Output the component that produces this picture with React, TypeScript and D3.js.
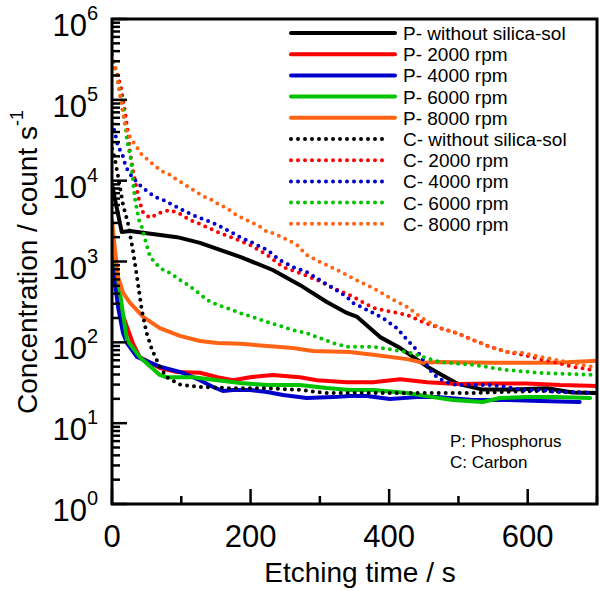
import React from "react";
import * as d3 from "d3";

type Pt = [number, number];

// time (s), concentration (count/s)
const P_without: Pt[] = [[0,8900],[14,2320],[26,2380],[94,2000],[127,1700],[185,1140],[232,785],[271,513],[310,316],[339,231],[354,206],[387,116],[416,85],[455,50],[498,31],[535,26],[579,26],[628,27],[665,24],[700,23.6]];
const P_2000: Pt[] = [[0,1600],[1.5,1050],[7,480],[11.5,275],[21.6,155],[30,98],[40,66],[69,48],[94,43],[127,42],[152,37],[175,34],[199,37],[232,39.5],[271,37],[296,34],[339,32],[377,32],[416,35],[455,32],[498,30.5],[546,31],[599,31],[647,29.6],[700,28.8]];
const P_4000: Pt[] = [[0,1200],[1.5,860],[8.7,275],[16,130],[21.6,98],[36,66],[69,50],[102,42],[127,34],[146,28],[160,25],[175,25.8],[199,25.8],[224,24.3],[247,22.3],[281,20.5],[319,21],[343,21.7],[368,21.7],[401,19.9],[440,21],[473,21],[521,19.4],[570,19.4],[618,18.8],[675,18.3]];
const P_6000: Pt[] = [[0,1950],[1.5,1700],[7,785],[14.4,275],[21.6,107],[40,66],[69,39.5],[79,37],[117,37],[152,34],[185,31.4],[224,29.6],[271,29.6],[310,27.2],[343,25.8],[377,25.8],[426,23.6],[463,21],[492,19.4],[535,18.3],[560,20.5],[599,21],[642,21],[690,20.5]];
const P_8000: Pt[] = [[0,3250],[4.3,1390],[8.7,645],[16,408],[26,308],[45,206],[69,150],[98,120],[127,104],[152,98],[185,96],[224,90],[261,85],[290,78],[343,76],[377,70],[426,62],[449,56],[473,57],[546,56],[642,56],[700,59]];
const C_without: Pt[] = [[0,25000],[4,19000],[9,11000],[16,5000],[23,3000],[30,1400],[36,650],[43,250],[50,130],[58,80],[69,50],[79,37],[98,30],[127,28],[175,27],[224,27],[271,25.8],[310,23.6],[339,23.6],[426,23.6],[473,23.6],[521,23.6],[560,24.3],[618,25],[700,23.6]];
const C_2000: Pt[] = [[0,295000],[7,220000],[13,141000],[19,69000],[23,39000],[26,22000],[31,12400],[36,7700],[39,5800],[45,4000],[55,3450],[69,4000],[84,4340],[98,3880],[113,3250],[127,2910],[152,2320],[175,1950],[199,1600],[224,1200],[247,855],[271,720],[296,590],[319,470],[343,385],[377,266],[426,218],[449,178],[473,150],[498,130],[521,107],[546,88],[570,76],[593,70],[618,62],[642,56],[665,50],[694,45.5]];
const C_4000: Pt[] = [[0,51500],[4.3,39000],[8.7,26000],[14.4,22000],[20,14800],[29,11100],[43,8300],[62,6300],[74,5770],[94,4700],[115,3800],[127,3450],[146,3000],[166,2450],[185,2000],[203,1700],[224,1390],[242,1045],[261,855],[281,740],[300,590],[319,470],[339,365],[348,307],[368,252],[391,200],[411,150],[426,107],[440,80],[449,60.5],[459,45.5],[469,37],[483,32],[498,29.7],[521,29.7],[546,29.7],[570,28],[593,25.8],[618,25.8],[642,24.3],[665,24.3],[694,23.6]];
const C_6000: Pt[] = [[0,360000],[4.3,255000],[7,191000],[10,145000],[13,108000],[16,81000],[17.5,61000],[20,42600],[21.6,32000],[24.5,24000],[27.4,18000],[29,12800],[30.5,9300],[32,7250],[33.5,5770],[36,4360],[39,3250],[43,2680],[48,1850],[55,1140],[69,830],[84,720],[98,590],[110,510],[123,420],[137,335],[152,290],[166,266],[185,230],[203,206],[224,178],[242,160],[261,142],[281,130],[300,113],[319,98],[339,88],[377,88],[426,76],[473,57],[521,52.5],[570,45.5],[618,41.8],[665,40.6],[694,39.5]];
const C_8000: Pt[] = [[0,360000],[4.3,270000],[7,204000],[11.5,115000],[14.4,81000],[17.3,60000],[21.6,40000],[29,31700],[43,21000],[52,18000],[62,15200],[74,12800],[84,11800],[94,10200],[102,9350],[113,8100],[124,7040],[134,6300],[144,5770],[156,4980],[166,4570],[175,3970],[185,3560],[195,3250],[203,3000],[214,2680],[224,2320],[232,2240],[245,2000],[254,1850],[267,1600],[281,1200],[300,986],[319,830],[339,680],[358,557],[377,470],[401,355],[426,274],[445,206],[473,150],[498,130],[521,107],[546,88],[570,76],[593,74],[618,66],[642,60.5],[665,55.6],[694,49.5]];

const seriesNames = ["P- without silica-sol","P- 2000 rpm","P- 4000 rpm","P- 6000 rpm","P- 8000 rpm","C- without silica-sol","C- 2000 rpm","C- 4000 rpm","C- 6000 rpm","C- 8000 rpm"];
const seriesData = [P_without, P_2000, P_4000, P_6000, P_8000, C_without, C_2000, C_4000, C_6000, C_8000];
const seriesColors = ["#000000","#ff0000","#0000cc","#00c400","#ff6414","#000000","#ff0000","#0000cc","#00c400","#ff6414"];
const seriesDotted = [false,false,false,false,false,true,true,true,true,true];

const xMajorTicks = [0, 200, 400, 600];
const xMinorTicks = [100, 300, 500, 700];
const yExponents = [0, 1, 2, 3, 4, 5, 6];
const notes = ["P: Phosphorus", "C: Carbon"];

const FONT = "'Liberation Sans', Arial, Helvetica, sans-serif";

export default function App() {
  const left = 112, right = 597, top = 19, bottom = 504;
  const x = d3.scaleLinear().domain([0, 700]).range([left, right]);
  const y = d3.scaleLog().domain([1, 1e6]).range([bottom, top]);
  const line = d3.line<Pt>().x(d => x(d[0])).y(d => y(d[1]));

  const minorY: number[] = [];
  for (let e = 0; e < 6; e++) for (let m = 2; m <= 9; m++) minorY.push(m * Math.pow(10, e));

  return (
    <svg width={600} height={591} style={{ position: "absolute", left: 0, top: 0, background: "#fff" }} fontFamily={FONT}>
      <defs>
        <clipPath id="plotclip">
          <rect x={left} y={top} width={right - left} height={bottom - top} />
        </clipPath>
      </defs>
      <rect x={0} y={0} width={600} height={591} fill="#fff" />
      <g clipPath="url(#plotclip)">
        {seriesData.map((data, i) => (
          <path key={i} d={line(data) || ""} fill="none" stroke={seriesColors[i]}
            strokeWidth={4}
            strokeDasharray={seriesDotted[i] ? "0 7" : undefined}
            strokeLinecap="round" strokeLinejoin="round" />
        ))}
      </g>
      {yExponents.map(e => (
        <line key={"ymj" + e} x1={left} x2={left + 15} y1={y(Math.pow(10, e))} y2={y(Math.pow(10, e))} stroke="#000" strokeWidth={2.5} />
      ))}
      {minorY.map((v, i) => (
        <line key={"ymn" + i} x1={left} x2={left + 8} y1={y(v)} y2={y(v)} stroke="#000" strokeWidth={2.5} />
      ))}
      {xMajorTicks.map(t => (
        <line key={"xmj" + t} x1={x(t)} x2={x(t)} y1={bottom} y2={bottom - 15} stroke="#000" strokeWidth={2.5} />
      ))}
      {xMinorTicks.map(t => (
        <line key={"xmn" + t} x1={x(t)} x2={x(t)} y1={bottom} y2={bottom - 8} stroke="#000" strokeWidth={2.5} />
      ))}
      <rect x={left} y={top} width={right - left} height={bottom - top} fill="none" stroke="#000" strokeWidth={3} />
      {yExponents.map(e => (
        <text key={"yl" + e} x={98} y={y(Math.pow(10, e)) + 17} textAnchor="end" fontSize={31} fill="#000">
          10<tspan fontSize={20} dy={-16}>{e}</tspan>
        </text>
      ))}
      {xMajorTicks.map(t => (
        <text key={"xl" + t} x={x(t)} y={547} textAnchor="middle" fontSize={31} fill="#000">{t}</text>
      ))}
      <text x={360} y={582} textAnchor="middle" fontSize={28} fill="#000">Etching time / s</text>
      <text transform="translate(37,262) rotate(-90)" textAnchor="middle" fontSize={28} fill="#000">
        Concentration / count s<tspan fontSize={18} dy={-14}>-1</tspan>
      </text>
      {seriesNames.map((name, i) => {
        const yy = 33 + i * 21.2;
        return (
          <g key={"lg" + i}>
            <line x1={291} x2={seriesDotted[i] ? 388 : 395} y1={yy} y2={yy} stroke={seriesColors[i]} strokeWidth={4}
              strokeDasharray={seriesDotted[i] ? "0 7" : undefined} strokeLinecap="round" />
            <text x={403} y={yy + 7} fontSize={19} fill="#000">{name}</text>
          </g>
        );
      })}
      {notes.map((n, i) => (
        <text key={"n" + i} x={450} y={447 + i * 21} fontSize={17} fill="#000">{n}</text>
      ))}
    </svg>
  );
}
